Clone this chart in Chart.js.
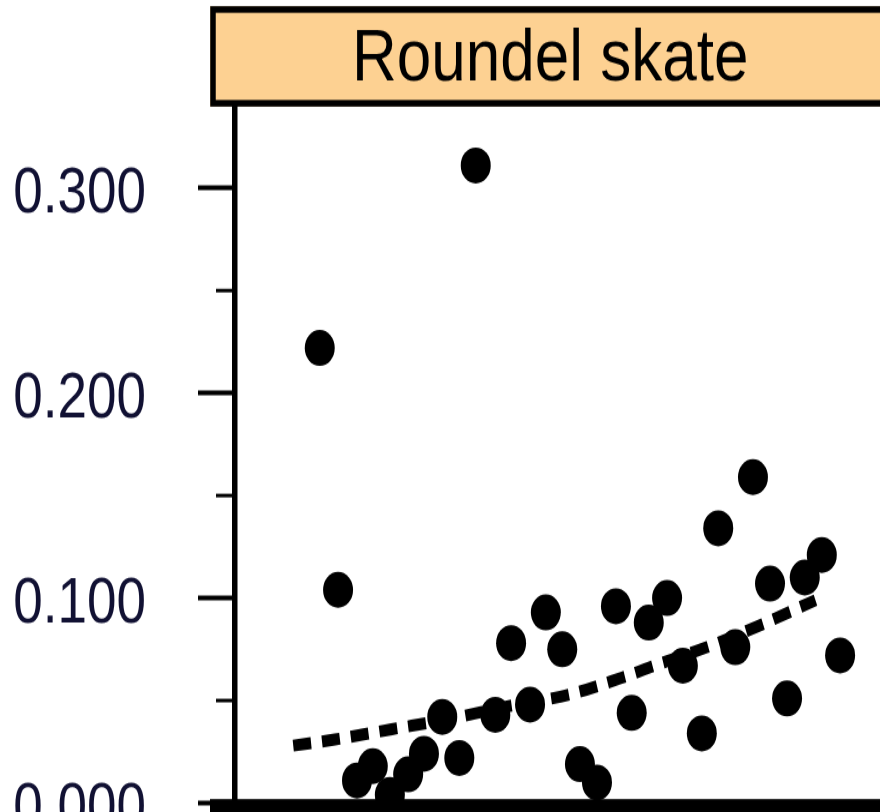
<!DOCTYPE html>
<html>
<head>
<meta charset="utf-8">
<script src="https://cdn.jsdelivr.net/npm/chart.js@4"></script>
<style>
  html, body { margin: 0; padding: 0; background: #fff; overflow: hidden; }
</style>
</head>
<body>
<!-- drawn at 880x677 and stretched to 812 tall, like the source figure -->
<canvas id="chart" width="880" height="677" style="display:block;width:880px;height:812px"></canvas>
<script>
const panelTitle = 'Roundel skate';

// observations (x has no visible labels, so it runs 0-100 across the panel)
const pointX = [38.2, 13.5, 16.4, 82.1, 76.6, 93.0, 90.3, 84.8, 49.3, 60.4, 68.5,
                65.6, 43.8, 51.9, 95.9, 79.3, 71.0, 46.8, 41.3, 32.9, 62.9, 87.5,
                74.0, 35.6, 54.7, 57.4, 30.0, 27.5, 24.6, 21.9, 19.4];
const pointY = [0.311, 0.222, 0.104, 0.159, 0.134, 0.121, 0.110, 0.107, 0.093, 0.096, 0.100,
                0.088, 0.078, 0.075, 0.072, 0.076, 0.067, 0.048, 0.043, 0.042, 0.044, 0.051,
                0.034, 0.022, 0.019, 0.010, 0.024, 0.014, 0.004, 0.018, 0.011];

// fitted trend (dashed)
const trendX = [9.3, 15.9, 24.9, 34.0, 43.0, 53.1, 61.2, 67.4, 74.8, 82.7, 92.0];
const trendY = [0.028, 0.031, 0.036, 0.041, 0.047, 0.053, 0.061, 0.068, 0.076, 0.086, 0.099];

const yMajorTicks = [0, 0.1, 0.2, 0.3];
const yMinorTicks = [0.05, 0.15, 0.25];

const fontFamily = '"Liberation Sans", Arial, sans-serif';

// orange facet strip behind the title
const stripPlugin = {
    id: 'strip',
    beforeDraw(chart) {
        const ctx = chart.ctx;
        ctx.save();
        ctx.fillStyle = '#fdd192';
        ctx.fillRect(210, 5, 700, 83.8);
        ctx.strokeStyle = '#000';
        ctx.lineWidth = 5.5;
        ctx.strokeRect(213, 7.9, 700, 78.2);
        ctx.restore();
    }
};

// short minor ticks + heavy bottom axis line
const axisPlugin = {
    id: 'axisExtras',
    afterDatasetsDraw(chart) {
        const ctx = chart.ctx;
        const y = chart.scales.y;
        const left = chart.chartArea.left;
        ctx.save();
        ctx.strokeStyle = '#000';
        ctx.lineWidth = 3;
        yMinorTicks.forEach(v => {
            const py = y.getPixelForValue(v);
            ctx.beginPath();
            ctx.moveTo(216, py);
            ctx.lineTo(left, py);
            ctx.stroke();
        });
        ctx.fillStyle = '#000';
        ctx.fillRect(210, y.getPixelForValue(0) - 3.3, 700, 14);
        ctx.restore();
    }
};

new Chart(document.getElementById('chart'), {
    data: {
        datasets: [{
            type: 'scatter',
            data: pointX.map((x, i) => ({ x: x, y: pointY[i] })),
            pointRadius: 15,
            pointBackgroundColor: '#000',
            pointBorderWidth: 0,
            clip: false
        }, {
            type: 'line',
            data: trendX.map((x, i) => ({ x: x, y: trendY[i] })),
            borderColor: '#000',
            borderWidth: 10,
            borderDash: [18, 11],
            borderCapStyle: 'butt',
            cubicInterpolationMode: 'monotone',
            pointRadius: 0,
            fill: false,
            clip: false
        }]
    },
    options: {
        responsive: false,
        devicePixelRatio: 1,
        animation: false,
        events: [],
        layout: { autoPadding: false, padding: { left: 0, right: 14, top: 0, bottom: 7.5 } },
        plugins: {
            legend: { display: false },
            tooltip: { enabled: false },
            title: {
                display: true,
                text: panelTitle,
                fullSize: false,
                color: '#000',
                font: { family: fontFamily, size: 62, weight: 'normal', lineHeight: 1.2 },
                padding: { top: 13, bottom: 1 }
            }
        },
        scales: {
            x: { type: 'linear', min: 0, max: 100, display: false },
            y: {
                min: 0,
                max: 0.34,
                afterBuildTicks: axis => { axis.ticks = yMajorTicks.map(value => ({ value })); },
                afterFit: axis => {
                    axis.width = 234.5;
                    // labels may hang past the plot edges, don't reserve room for them
                    axis.paddingTop = 0;
                    axis.paddingBottom = 0;
                },
                grid: { drawOnChartArea: false, drawTicks: true, tickLength: 36.5, tickWidth: 4.2, tickColor: '#000' },
                border: { display: true, color: '#000', width: 5.5 },
                ticks: {
                    padding: 52,
                    labelOffset: 6,
                    color: '#111133',
                    font: { family: fontFamily, size: 53 },
                    callback: v => v.toFixed(3)
                }
            }
        }
    },
    plugins: [stripPlugin, axisPlugin]
});
</script>
</body>
</html>
